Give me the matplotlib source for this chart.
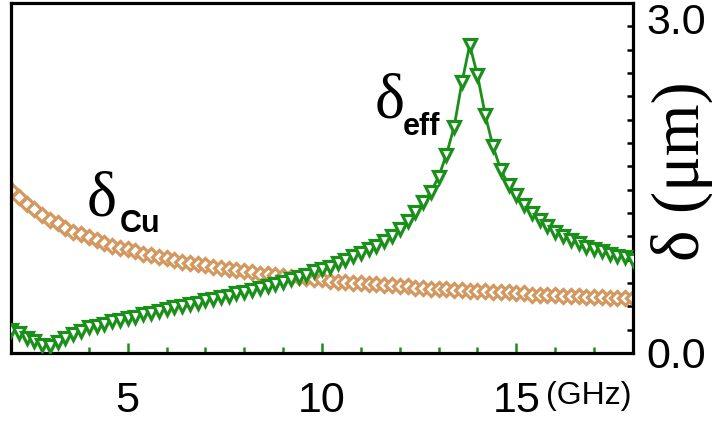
import numpy as np
import matplotlib
matplotlib.use("Agg")
import matplotlib.pyplot as plt
from matplotlib.ticker import MultipleLocator, FixedLocator

# frequency axis (GHz), one point every 0.2 GHz
freq = [round(2.0 + 0.2 * i, 1) for i in range(81)]

# copper skin depth (um)
delta_cu = [1.40, 1.34, 1.28, 1.23, 1.18, 1.14, 1.11, 1.07, 1.04, 1.02,
            0.99, 0.97, 0.94, 0.92, 0.90, 0.89, 0.87, 0.85, 0.84, 0.82,
            0.81, 0.80, 0.78, 0.77, 0.76, 0.75, 0.74, 0.73, 0.72, 0.71,
            0.70, 0.69, 0.68, 0.68, 0.67, 0.66, 0.65, 0.65, 0.64, 0.63,
            0.63, 0.62, 0.61, 0.61, 0.60, 0.60, 0.59, 0.59, 0.58, 0.58,
            0.57, 0.57, 0.56, 0.56, 0.55, 0.55, 0.55, 0.54, 0.54, 0.53,
            0.53, 0.53, 0.52, 0.52, 0.52, 0.51, 0.51, 0.50, 0.50, 0.50,
            0.50, 0.49, 0.49, 0.49, 0.48, 0.48, 0.48, 0.47, 0.47, 0.47,
            0.47]

# effective skin depth (um)
delta_eff = [0.20, 0.17, 0.13, 0.10, 0.07, 0.06, 0.09, 0.13, 0.16, 0.19,
             0.22, 0.23, 0.25, 0.27, 0.28, 0.30, 0.31, 0.33, 0.34, 0.36,
             0.38, 0.39, 0.40, 0.42, 0.43, 0.45, 0.46, 0.48, 0.49, 0.51,
             0.52, 0.54, 0.56, 0.57, 0.59, 0.61, 0.63, 0.65, 0.67, 0.70,
             0.72, 0.74, 0.77, 0.80, 0.83, 0.86, 0.89, 0.92, 0.96, 1.00,
             1.06, 1.13, 1.21, 1.29, 1.38, 1.51, 1.70, 1.94, 2.32, 2.64,
             2.38, 2.04, 1.77, 1.57, 1.44, 1.35, 1.27, 1.20, 1.14, 1.09,
             1.04, 1.00, 0.97, 0.94, 0.91, 0.89, 0.87, 0.85, 0.83, 0.82,
             0.80]

green = '#1a8f1a'
tan = '#d4985f'

fig = plt.figure(figsize=(7.12, 4.23), dpi=100)
ax = fig.add_axes([0.0155, 0.1655, 0.8735, 0.8275])

ax.plot(freq, delta_cu, color=tan, lw=1.5, marker='D', ms=7,
        mfc='white', mec=tan, mew=2.3, zorder=2)
ax.plot(freq, delta_eff, color=green, lw=2.0, marker='v', ms=9,
        mfc='white', mec=green, mew=2.3, zorder=3)

ax.set_xlim(2, 18)
ax.set_ylim(0, 3.0)

for s in ax.spines.values():
    s.set_linewidth(2.3)

# x axis: green inward ticks
ax.xaxis.set_major_locator(FixedLocator([5, 10, 15]))
ax.xaxis.set_minor_locator(MultipleLocator(1))
ax.tick_params(axis='x', which='major', direction='in', length=7, width=1.8,
               color=green, pad=20, labelsize=31)
ax.tick_params(axis='x', which='minor', direction='in', length=4.5, width=1.8,
               color=green)
for lab in ax.get_xticklabels():
    lab.set_family('Liberation Sans')

# y axis on the right
ax.yaxis.tick_right()
ax.yaxis.set_major_locator(FixedLocator([0.0, 3.0]))
ax.yaxis.set_minor_locator(MultipleLocator(0.2))
ax.set_yticklabels(['0.0', '3.0'])
ax.tick_params(axis='y', which='both', direction='in', length=4.5, width=1.8,
               color='black', pad=10, labelsize=31, left=False, right=True)
ylabs = ax.get_yticklabels()
for lab in ylabs:
    lab.set_family('Liberation Sans')
ylabs[1].set_va('top')

# frequency unit next to the 15 label
ax.text(15.75, -0.123, '(GHz)', transform=ax.get_xaxis_transform(),
        ha='left', va='center', fontsize=23, family='Liberation Sans')

# y label in the tick-label column
fig.text(0.957, 1 - 171 / 423, 'δ (μm)', rotation=90, ha='center', va='center',
         fontsize=48, family='Liberation Serif')

# curve labels
ax.text(4.33, 1.18, 'δ', ha='center', va='baseline', fontsize=46,
        family='Liberation Serif')
ax.text(4.80, 1.04, 'Cu', ha='left', va='baseline', fontsize=22,
        family='Liberation Sans', fontweight='bold')
ax.text(11.75, 2.02, 'δ', ha='center', va='baseline', fontsize=46,
        family='Liberation Serif')
ax.text(12.08, 1.87, 'eff', ha='left', va='baseline', fontsize=22,
        family='Liberation Sans', fontweight='bold')

fig.savefig('out.png', dpi=100)
